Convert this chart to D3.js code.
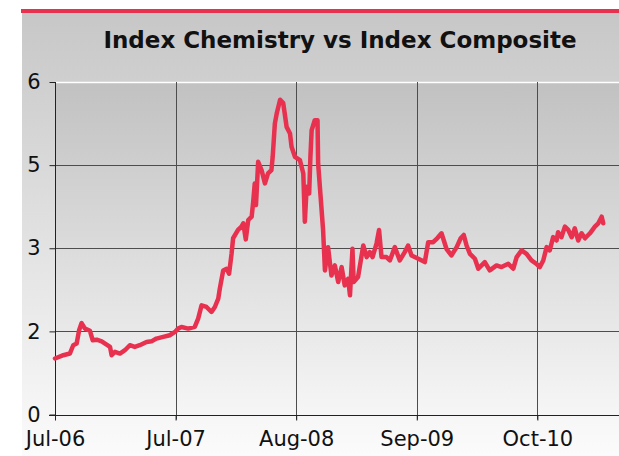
<!DOCTYPE html>
<html>
<head>
<meta charset="utf-8">
<script src="https://cdn.jsdelivr.net/npm/d3@7"></script>
<style>
  html, body { margin: 0; padding: 0; background: #ffffff; }
  svg { display: block; }
</style>
</head>
<body>
<svg id="chart" width="619" height="456"></svg>
<script>
// ---- data ----
const title = "Index Chemistry vs Index Composite";

const dates = ["2006-07-01","2006-07-28","2006-08-18","2006-08-29","2006-09-09","2006-09-17","2006-09-25","2006-10-06","2006-10-22","2006-10-31","2006-11-13","2006-11-29","2006-12-10","2006-12-26","2006-12-31","2007-01-11","2007-01-27","2007-02-12","2007-02-28","2007-03-16","2007-04-01","2007-04-23","2007-05-09","2007-05-25","2007-06-16","2007-07-07","2007-07-24","2007-08-03",
"2007-08-14","2007-09-05","2007-09-26","2007-10-07","2007-10-18","2007-11-03","2007-11-19","2007-11-30","2007-12-11","2007-12-16","2007-12-27","2008-01-07","2008-01-15","2008-01-23","2008-01-28","2008-02-13","2008-02-24","2008-03-01","2008-03-09","2008-03-17","2008-03-28","2008-04-02","2008-04-07","2008-04-11","2008-04-18","2008-04-29","2008-05-10","2008-05-20","2008-05-31","2008-06-04","2008-06-11","2008-06-17","2008-06-28","2008-07-08","2008-07-13","2008-07-19","2008-07-30","2008-08-04","2008-08-15","2008-08-31","2008-09-11","2008-09-16","2008-09-22","2008-09-30","2008-10-04","2008-10-08","2008-10-18","2008-10-27","2008-10-29","2008-11-06","2008-11-14","2008-11-20","2008-11-30","2008-12-11","2008-12-22","2009-01-02","2009-01-13","2009-01-23","2009-02-03","2009-02-09","2009-02-17","2009-02-21","2009-03-07","2009-03-24","2009-04-04","2009-04-14","2009-04-23","2009-05-06","2009-05-14","2009-05-22","2009-06-07","2009-06-18","2009-07-04","2009-07-20","2009-08-05","2009-08-16","2009-08-27","2009-09-18","2009-10-09","2009-10-20","2009-11-05","2009-11-18","2009-12-02","2009-12-18","2010-01-03","2010-01-20","2010-02-02","2010-02-12","2010-02-21","2010-03-04","2010-03-20","2010-03-31","2010-04-05","2010-04-21","2010-05-07","2010-05-29","2010-06-14","2010-07-06","2010-07-22","2010-08-02","2010-08-18","2010-09-03","2010-09-19","2010-10-05","2010-10-16","2010-10-27","2010-11-07","2010-11-17","2010-11-28","2010-12-09","2010-12-14","2010-12-25","2011-01-05","2011-01-16","2011-01-27","2011-02-06","2011-02-17","2011-02-28","2011-03-11","2011-03-27","2011-04-12","2011-04-23","2011-05-04","2011-05-09"];

const values = [1.01,1.07,1.10,1.25,1.28,1.52,1.65,1.55,1.51,1.34,1.35,1.32,1.28,1.22,1.07,1.13,1.10,1.16,1.25,1.22,1.25,1.31,1.32,1.37,1.40,1.43,1.49,1.55,
1.58,1.55,1.58,1.73,1.97,1.94,1.85,1.94,2.09,2.27,2.60,2.63,2.54,2.90,3.18,3.33,3.39,3.45,3.16,3.51,3.57,3.84,4.17,3.78,4.56,4.41,4.17,4.35,4.41,4.65,5.25,5.43,5.68,5.62,5.43,5.19,5.07,4.83,4.65,4.59,4.35,3.48,4.11,3.99,4.65,5.13,5.31,5.31,4.53,3.93,3.33,2.60,3.02,2.51,2.69,2.39,2.66,2.33,2.45,2.15,2.99,2.39,2.48,3.05,2.84,2.93,2.84,3.09,3.33,2.84,2.84,2.78,3.02,2.78,2.93,3.05,2.87,2.81,2.75,3.11,3.11,3.18,3.27,2.99,2.87,3.02,3.18,3.24,3.05,2.90,2.81,2.63,2.66,2.75,2.60,2.69,2.66,2.72,2.63,2.84,2.96,2.90,2.78,2.72,2.66,2.78,3.02,2.96,3.20,3.14,3.29,3.20,3.39,3.33,3.20,3.36,3.14,3.27,3.18,3.27,3.39,3.45,3.57,3.45];

const xTickDates  = ["2006-07-01","2007-07-26","2008-08-19","2009-09-13","2010-10-08"];
const xTickLabels = ["Jul-06","Jul-07","Aug-08","Sep-09","Oct-10"];
const yTickValues = [0, 1.5, 3, 4.5, 6];
const yTickLabels = ["0","2","3","5","6"];
const xDomain = ["2006-07-01","2011-06-29"];
const yDomain = [0, 6];

// ---- drawing ----
const W = 619, H = 456;
const parse = d3.timeParse("%Y-%m-%d");
const n = Math.min(dates.length, values.length);
const series = d3.range(n).map(i => ({ date: parse(dates[i]), value: values[i] }));

const plot = { left: 55, right: 619, top: 82, bottom: 414.5 };
const RED = "#e8304f";
const GRID = "#4d4d4d";
const FONT = "'DejaVu Sans', Verdana, sans-serif";

const svg = d3.select("#chart");
const defs = svg.append("defs");

const gOuter = defs.append("linearGradient").attr("id", "bgOuter")
  .attr("x1", 0).attr("y1", 0).attr("x2", 0).attr("y2", 1);
gOuter.append("stop").attr("offset", "0%").attr("stop-color", "#c7c7c7");
gOuter.append("stop").attr("offset", "100%").attr("stop-color", "#fbfbfb");

const gPlot = defs.append("linearGradient").attr("id", "bgPlot")
  .attr("x1", 0).attr("y1", 0).attr("x2", 0).attr("y2", 1);
gPlot.append("stop").attr("offset", "0%").attr("stop-color", "#c1c1c1");
gPlot.append("stop").attr("offset", "100%").attr("stop-color", "#f6f6f6");

// outer background panel
svg.append("rect").attr("x", 22).attr("y", 13).attr("width", W - 22).attr("height", H - 13)
  .attr("fill", "url(#bgOuter)");
// red top rule
svg.append("rect").attr("x", 21).attr("y", 9).attr("width", W - 21).attr("height", 4)
  .attr("fill", RED);

// plot background
svg.append("rect").attr("x", plot.left).attr("y", plot.top)
  .attr("width", plot.right - plot.left).attr("height", plot.bottom - plot.top)
  .attr("fill", "url(#bgPlot)");

// title
svg.append("text").attr("x", 340).attr("y", 48)
  .attr("text-anchor", "middle")
  .attr("font-family", FONT)
  .attr("font-weight", "bold").attr("font-size", 23)
  .attr("fill", "#111")
  .text(title);

const x = d3.scaleTime().domain(xDomain.map(parse)).range([plot.left, plot.right]);
const y = d3.scaleLinear().domain(yDomain).range([plot.bottom, plot.top]);

// horizontal grid
svg.append("g").selectAll("line").data(yTickValues.filter(v => v > 0 && v < 6)).join("line")
  .attr("x1", plot.left).attr("x2", plot.right)
  .attr("y1", d => Math.round(y(d)) + 0.5).attr("y2", d => Math.round(y(d)) + 0.5)
  .attr("stroke", GRID).attr("stroke-width", 1);
// top white border
svg.append("line").attr("x1", plot.left).attr("x2", plot.right)
  .attr("y1", Math.round(y(6)) + 0.5).attr("y2", Math.round(y(6)) + 0.5)
  .attr("stroke", "#ffffff").attr("stroke-width", 1.5);

// vertical grid
svg.append("g").selectAll("line").data(xTickDates.slice(1).map(parse)).join("line")
  .attr("x1", d => Math.round(x(d)) + 0.5).attr("x2", d => Math.round(x(d)) + 0.5)
  .attr("y1", plot.top).attr("y2", plot.bottom + 5)
  .attr("stroke", GRID).attr("stroke-width", 1);

// y axis
const yAxis = d3.axisLeft(y).tickValues(yTickValues).tickSize(6).tickPadding(9)
  .tickFormat((d, i) => yTickLabels[i]);
const gy = svg.append("g").attr("transform", `translate(${plot.left + 0.5},0)`).call(yAxis);
gy.select(".domain").attr("stroke", "#222").attr("d", `M0,${plot.top}V${plot.bottom + 5}`);
gy.selectAll(".tick line").attr("stroke", "#222");
gy.selectAll(".tick text").attr("font-family", FONT)
  .attr("font-size", 21).attr("fill", "#111");

// x axis
const xAxis = d3.axisBottom(x).tickValues(xTickDates.map(parse)).tickSize(5).tickPadding(11)
  .tickFormat((d, i) => xTickLabels[i]);
const gx = svg.append("g").attr("transform", `translate(0,${Math.round(plot.bottom) + 0.5})`).call(xAxis);
gx.select(".domain").attr("stroke", "#222").attr("d", `M${plot.left - 6},0H${plot.right}`);
gx.selectAll(".tick line").attr("stroke", "#222");
gx.selectAll(".tick text").attr("font-family", FONT)
  .attr("font-size", 21).attr("fill", "#111");

// series line
const line = d3.line().x(d => x(d.date)).y(d => y(d.value));
svg.append("path").datum(series)
  .attr("d", line)
  .attr("fill", "none")
  .attr("stroke", RED)
  .attr("stroke-width", 4.5)
  .attr("stroke-linejoin", "round")
  .attr("stroke-linecap", "round");
</script>
</body>
</html>
